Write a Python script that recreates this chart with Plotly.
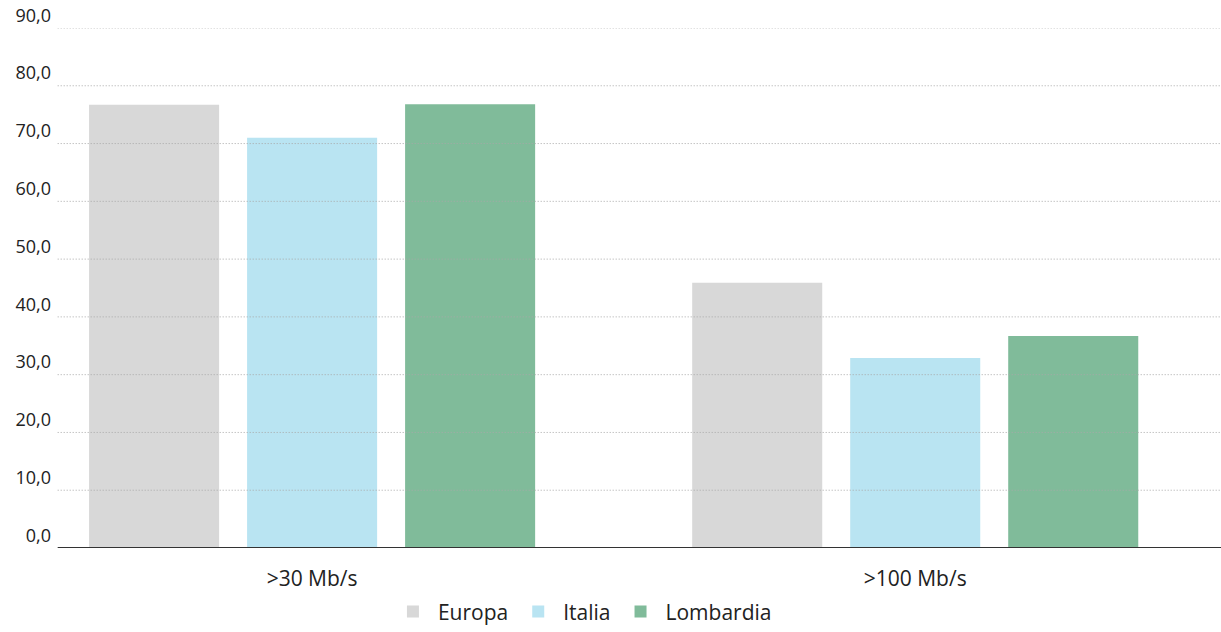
import plotly.graph_objects as go

categories = [">30 Mb/s", ">100 Mb/s"]
series_names = ["Europa", "Italia", "Lombardia"]
europa = [76.7, 45.9]
italia = [71.0, 32.9]
lombardia = [76.8, 36.7]
colors = ["#d8d8d8", "#b9e4f2", "#80bb9a"]
y_ticks = [0, 10, 20, 30, 40, 50, 60, 70, 80, 90]

fig = go.Figure()
for name, vals, col in zip(series_names, [europa, italia, lombardia], colors):
    fig.add_trace(go.Bar(x=categories, y=vals, name=name, marker_color=col,
                         marker_line_width=0, hoverinfo="skip"))

shapes = []
for t in y_ticks[1:]:
    shapes.append(dict(type="line", xref="paper", yref="y", x0=-0.002, x1=1, y0=t, y1=t,
                       line=dict(color="#a8a8a8", width=1, dash="1px,2px"), layer="above"))
shapes.append(dict(type="line", xref="paper", yref="y", x0=-0.002, x1=1, y0=0, y1=0,
                   line=dict(color="#333333", width=2), layer="above"))

fig.update_layout(
    width=1221, height=632,
    margin=dict(l=60, r=0, t=28, b=84, autoexpand=False),
    paper_bgcolor="white", plot_bgcolor="white",
    separators=",.",
    barmode="group", bargap=0.214, bargroupgap=0.177,
    font=dict(family="Open Sans", color="#222222"),
    xaxis=dict(range=[-0.418, 1.507], showgrid=False, showline=False, zeroline=False,
               tickfont=dict(size=21), ticks="", ticklabelstandoff=16),
    yaxis=dict(range=[0, 90], tickvals=y_ticks, tickformat=".1f", showgrid=False,
               zeroline=False, showline=False, ticks="", ticklabelposition="outside top",
               tickfont=dict(size=18), ticklabelstandoff=8),
    legend=dict(orientation="h", x=0.45, xanchor="center", y=-0.162, yanchor="bottom",
                font=dict(size=21), itemclick=False, itemwidth=40),
    shapes=shapes,
)

fig.write_html("out.html")
